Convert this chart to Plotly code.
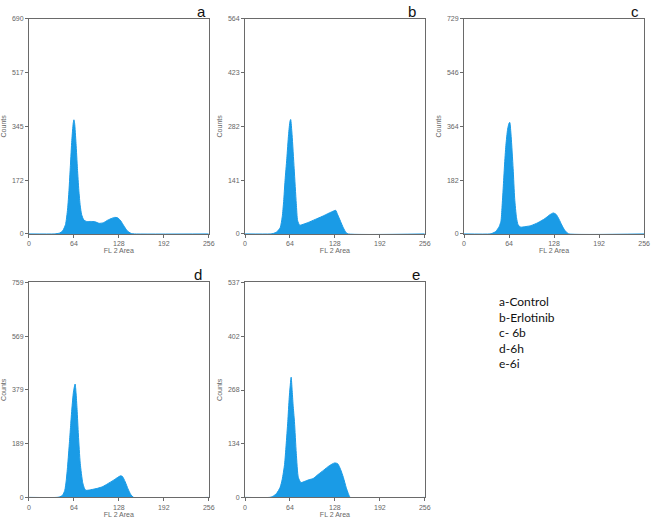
import plotly.graph_objects as go

W, H = 659, 529

# ---- data ----
panel_labels = ["a", "b", "c", "d", "e"]
legend_lines = ["a-Control", "b-Erlotinib", "c- 6b", "d-6h", "e-6i"]
x_ticks = [0, 64, 128, 192, 256]

ch_a = [0, 36, 40, 44, 48, 52, 55, 57, 59, 61, 63, 64, 65, 67, 69, 71, 73, 75, 78, 82, 88, 94, 100, 106, 112, 118, 122, 126, 130, 134, 138, 142, 146, 150, 256]
ct_a = [0, 0, 1, 3, 10, 30, 80, 140, 220, 300, 355, 366, 355, 290, 210, 140, 90, 62, 45, 40, 40, 39, 34, 36, 44, 50, 53, 52, 44, 30, 16, 6, 1, 0, 0]
ymax_a = 690
yticks_a = [0, 172, 345, 517, 690]

ch_b = [0, 36, 40, 45, 50, 53, 55, 57, 59.5, 62, 64, 65, 67, 70, 73, 75, 78, 84, 90, 100, 110, 120, 126, 129, 132, 136, 140, 144, 147, 256]
ct_b = [0, 0, 1, 5, 16, 45, 85, 140, 197, 260, 295, 300, 260, 171, 80, 34, 23, 26, 30, 38, 46, 55, 60, 62, 50, 33, 16, 3, 0, 0]
ymax_b = 564
yticks_b = [0, 141, 282, 423, 564]

ch_c = [0, 37, 40, 45, 50, 52.5, 54, 55.7, 57.5, 59.5, 62, 64, 65, 67, 69.8, 72, 74.6, 77, 80.6, 88, 95, 105, 115, 122, 127, 131, 135, 139, 143, 147, 149, 256]
ct_c = [0, 0, 2, 8, 25, 43, 90, 155, 230, 300, 355, 375, 378, 330, 222, 120, 55, 30, 23, 25, 28, 38, 52, 65, 71, 66, 50, 30, 13, 3, 0, 0]
ymax_c = 729
yticks_c = [0, 182, 364, 546, 729]

ch_d = [0, 40, 44, 48, 51, 53, 55, 57.7, 59.5, 61.5, 63.5, 65.7, 67, 68.5, 70.4, 73, 76.5, 79, 81.2, 88, 97.6, 105, 112, 120, 126, 130.4, 133, 137, 141, 145, 149, 256]
ct_d = [0, 0, 2, 8, 25, 58, 110, 197, 260, 325, 375, 400, 370, 310, 220, 120, 52, 32, 25, 27, 32, 38, 48, 60, 70, 76, 74, 55, 30, 10, 0, 0]
ymax_d = 759
yticks_d = [0, 189, 379, 569, 759]

ch_e = [0, 35, 40, 45, 50, 53, 56.3, 58.5, 60.9, 63, 65.7, 67, 68.5, 70.4, 73, 76, 79.8, 85, 91, 97, 104, 112, 120, 127.6, 132, 136, 140, 144, 147, 150, 256]
ct_e = [0, 0, 3, 10, 25, 45, 82, 130, 189, 250, 300, 270, 230, 189, 110, 49, 37, 40, 44, 47, 57, 68, 79, 86, 84, 70, 50, 25, 10, 0, 0]
ymax_e = 537
yticks_e = [0, 134, 268, 402, 537]

panels = [
    (ch_a, ct_a, ymax_a, yticks_a),
    (ch_b, ct_b, ymax_b, yticks_b),
    (ch_c, ct_c, ymax_c, yticks_c),
    (ch_d, ct_d, ymax_d, yticks_d),
    (ch_e, ct_e, ymax_e, yticks_e),
]

# ---- layout geometry (screen pixels) ----
boxes = [
    (27.3, 209.3, 15, 233),
    (246, 428, 15, 233),
    (467.7, 650, 15, 233),
    (27.3, 209.3, 282, 500),
    (246, 428, 282, 500),
]
label_pos = [(201.5, 8), (415, 8), (640.5, 8), (198.5, 274.5), (419.5, 274.5)]


def px(x):
    return x / W


def py(y):
    return 1 - y / H


FILL = "#1a9be6"
AXC = "#6a6a6a"
TICKF = dict(family="Liberation Sans Narrow, Liberation Sans, Arial", size=7, color="#666666")

fig = go.Figure()
layout = dict(
    width=W, height=H,
    margin=dict(l=0, r=0, t=0, b=0),
    paper_bgcolor="white", plot_bgcolor="white",
    showlegend=False,
    annotations=[],
)

for i, ((xs, ys, ymax, yt), (x0, x1, y0, y1)) in enumerate(zip(panels, boxes)):
    n = "" if i == 0 else str(i + 1)
    fig.add_trace(go.Scatter(
        x=xs, y=ys, xaxis="x" + n, yaxis="y" + n,
        mode="lines", line=dict(color=FILL, width=1, shape="spline", smoothing=0.6),
        fill="tozeroy", fillcolor=FILL, hoverinfo="skip",
    ))
    layout["xaxis" + n] = dict(
        domain=[px(x0), px(x1)], anchor="y" + n, range=[0, 256],
        tickvals=x_ticks, ticktext=[str(v) for v in x_ticks],
        showline=True, mirror=True, linecolor=AXC, linewidth=1,
        ticks="outside", ticklen=3, tickcolor=AXC, tickfont=TICKF,
        showgrid=False, zeroline=False, fixedrange=True,
        title=dict(text="FL 2 Area", font=TICKF, standoff=1),
    )
    layout["yaxis" + n] = dict(
        domain=[py(y1), py(y0)], anchor="x" + n, range=[0, ymax],
        tickvals=yt, ticktext=[str(v) for v in yt],
        showline=True, mirror=True, linecolor=AXC, linewidth=1,
        ticks="outside", ticklen=3, tickcolor=AXC, tickfont=TICKF,
        showgrid=False, zeroline=False, fixedrange=True,
        title=dict(text="Counts", font=TICKF, standoff=4),
    )
    lx, ly = label_pos[i]
    layout["annotations"].append(dict(
        x=px(lx), y=py(ly), xref="paper", yref="paper",
        text=panel_labels[i], showarrow=False, xanchor="center", yanchor="middle",
        font=dict(family="Liberation Sans, Arial", size=15, color="#111111"),
    ))

layout["annotations"].append(dict(
    x=px(501), y=py(292), xref="paper", yref="paper",
    text="<br>".join(legend_lines), showarrow=False, xanchor="left", yanchor="top",
    align="left", font=dict(family="Lato, Liberation Sans", size=12, color="#111111"),
))

fig.update_layout(**layout)
fig.write_html(
    "out.html",
    config={"displayModeBar": False, "staticPlot": True},
    post_script="document.body.style.margin='0';document.body.style.overflow='hidden';",
)
